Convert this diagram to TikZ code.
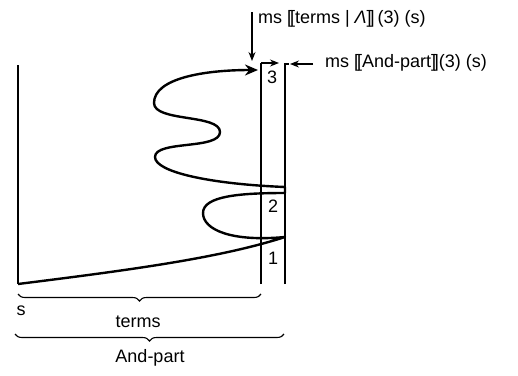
\documentclass[tikz,border=0pt]{standalone}
\usepackage{fontspec}
\setmainfont{Liberation Sans}
\usetikzlibrary{arrows.meta,decorations.pathreplacing}
\newcommand\mylsem{[\kern-0.12em[}
\newcommand\myrsem{]\kern-0.12em]}
\begin{document}
\begin{tikzpicture}[x=1pt,y=-1pt,
  txt/.style={font=\fontsize{18}{20}\selectfont, inner sep=0pt},
  thinline/.style={line width=1.4pt},
  wave/.style={line width=2.4pt, line join=round},
  ptr/.style={line width=1.1pt,-{Stealth[length=9pt,width=7pt]}},
  bigptr/.style={wave,-{Stealth[length=13pt,width=11pt]}},
  bracedec/.style={line width=1.1pt,decorate,decoration={brace,amplitude=7pt,aspect=0.5}}]
\useasboundingbox (0,0) rectangle (518,375);
% vertical lines
\coordinate (sTop) at (18,65);
\coordinate (s) at (18,284);
\coordinate (tTop) at (261,63);
\coordinate (tBot) at (261,284);
\coordinate (aTop) at (285,64);
\coordinate (aBot) at (285,284);
\coordinate (tArr) at (279,63);
\coordinate (aStub) at (289,64);
\draw[thinline] (sTop) -- (s);
\draw[thinline] (tBot) -- (tTop);
\draw[ptr] (tTop) -- (tArr);
\draw[thinline, line join=miter] (aBot) -- (aTop) -- (aStub);
% interval labels
\node[txt] (n3) at (272,77) {3};
\node[txt] (n2) at (273,206) {2};
\node[txt] (n1) at (273,258) {1};
% the wave
\coordinate (A) at (285,237);
\coordinate (B) at (285,193);
\coordinate (C) at (285,187);
\coordinate (E) at (258,70);
\draw[wave] (s) .. controls (130,270) and (220,258) .. (A)
  .. controls (232,242) and (203,230) .. (203,213)
  .. controls (203,196) and (240,193) .. (B) -- (C)
  .. controls (210,184) and (155,172) .. (155,157)
  .. controls (155,140) and (220,150) .. (220,132)
  .. controls (220,114) and (154,122) .. (154,103);
\draw[bigptr] (154,103) .. controls (154,78) and (205,70) .. (E);
% top labels
\node[txt, anchor=west] (lab1) at (258,19) {ms \mylsem terms | \textit{Λ}\myrsem\,(3) (s)};
\node[txt, anchor=west] (lab2) at (325,63) {ms \mylsem And-part\myrsem(3) (s)};
\coordinate (d1) at (252,12);
\coordinate (d1e) at (252,61);
\draw[ptr] (d1) -- (d1e);
\coordinate (d2) at (313,64);
\draw[ptr] (d2) -- (290,64);
% braces
\draw[bracedec] (261,294) -- (18,294);
\draw[bracedec] (284,334) -- (15,334);
\node[txt] (sl) at (21,311) {s};
\node[txt] (terms) at (138,322) {terms};
\node[txt] (andp) at (150,358) {And-part};
\end{tikzpicture}
\end{document}
